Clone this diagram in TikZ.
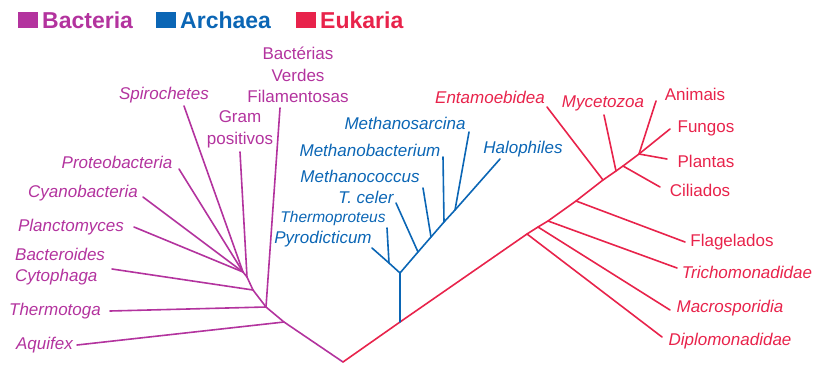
\documentclass[tikz,border=0pt]{standalone}
\usepackage{fontspec}
\setmainfont{Liberation Sans}
\definecolor{bac}{HTML}{B3339E}
\definecolor{arc}{HTML}{0B66B5}
\definecolor{euk}{HTML}{E8234B}
\tikzset{
  lab/.style={inner sep=0pt, font=\fontsize{17}{21.5}\selectfont, align=center},
  itl/.style={inner sep=0pt, font=\fontsize{17}{21.5}\selectfont\itshape, align=center},
  small/.style={inner sep=0pt, font=\fontsize{15.5}{18}\selectfont\itshape},
  head/.style={inner sep=0pt, font=\fontsize{23}{26}\selectfont\bfseries, anchor=west},
  sq/.style={inner sep=0pt, minimum width=20pt, minimum height=16pt},
  bl/.style={draw=bac, line width=1.6pt, line cap=round},
  al/.style={draw=arc, line width=1.6pt, line cap=round},
  el/.style={draw=euk, line width=1.6pt, line cap=round}
}
\begin{document}
\begin{tikzpicture}[x=1pt,y=-1pt]
\useasboundingbox (0,0) rectangle (813,364);
% legend
\node[sq, fill=bac] (sqb) at (28,19.5) {};
\node[head, text=bac] (hb) at (42,20) {Bacteria};
\node[sq, fill=arc] (sqa) at (166,19.5) {};
\node[head, text=arc] (ha) at (180,20) {Archaea};
\node[sq, fill=euk] (sqe) at (305.5,19.5) {};
\node[head, text=euk] (he) at (320,20) {Eukaria};

% ---------------- Bacteria ----------------
\coordinate (root) at (343,362);
\coordinate (bAq) at (284,322);
\coordinate (bJ) at (266,307);
\coordinate (bBa) at (253,290);
\coordinate (bGr) at (247,277);
\coordinate (bCl) at (243,272);
\coordinate (eAq) at (77,345);
\coordinate (eTh) at (110,311);
\coordinate (eBa) at (112,269);
\coordinate (ePl) at (134,227);
\coordinate (eCy) at (143,197);
\coordinate (ePr) at (179,169);
\coordinate (eSp) at (184,106);
\coordinate (eGr) at (240,152);
\coordinate (eVe) at (280,108);

\node[itl, text=bac, anchor=east] (nAq) at (73,345) {Aquifex};
\node[itl, text=bac, anchor=east] (nTh) at (101,311) {Thermotoga};
\node[itl, text=bac, anchor=west, align=left] (nBa) at (15,266.5) {Bacteroides\\Cytophaga};
\node[itl, text=bac] (nPl) at (71,227) {Planctomyces};
\node[itl, text=bac] (nCy) at (83,193) {Cyanobacteria};
\node[itl, text=bac] (nPr) at (117,162) {Proteobacteria};
\node[itl, text=bac] (nSp) at (164,95) {Spirochetes};
\node[lab, text=bac] (nGr) at (240,129.5) {Gram\\positivos};
\node[lab, text=bac] (nVe) at (298,75) {Bactérias\\Verdes\\Filamentosas};

\draw[bl] (root) -- (bAq) -- (bJ) -- (bBa) -- (bGr) -- (bCl);
\draw[bl] (bAq) -- (eAq);
\draw[bl] (bJ) -- (eTh);
\draw[bl] (bJ) -- (eVe);
\draw[bl] (bBa) -- (eBa);
\draw[bl] (bGr) -- (eGr);
\draw[bl] (bCl) -- (ePl);
\draw[bl] (bCl) -- (eCy);
\draw[bl] (bCl) -- (ePr);
\draw[bl] (bCl) -- (eSp);

% ---------------- Eukaria ----------------
\coordinate (kDi) at (527,234);
\coordinate (kMa) at (538,227);
\coordinate (kTr) at (548,221);
\coordinate (kFl) at (576,201);
\coordinate (kEn) at (603,180);
\coordinate (kMy) at (616,171);
\coordinate (kCi) at (623,166);
\coordinate (kCr) at (639,154);
\coordinate (aSt) at (400,322);

\coordinate (eDi) at (662,337);
\coordinate (eMa) at (670,310);
\coordinate (eTr) at (677,268);
\coordinate (eFl) at (685,242);
\coordinate (eEn) at (547,107);
\coordinate (eMy) at (604,115);
\coordinate (eCi) at (660,187);
\coordinate (eAn) at (656,101);
\coordinate (eFu) at (670,129);
\coordinate (ePa) at (667,159);

\node[itl, text=euk] (nDi) at (730,341) {Diplomonadidae};
\node[itl, text=euk] (nMa) at (730,308) {Macrosporidia};
\node[itl, text=euk] (nTr) at (747,272) {Trichomonadidae};
\node[lab, text=euk] (nFl) at (732,242) {Flagelados};
\node[itl, text=euk] (nEn) at (490,97) {Entamoebidea};
\node[itl, text=euk] (nMy) at (603,103) {Mycetozoa};
\node[lab, text=euk] (nCi) at (700,190) {Ciliados};
\node[lab, text=euk] (nAn) at (695,94) {Animais};
\node[lab, text=euk] (nFu) at (706,128) {Fungos};
\node[lab, text=euk] (nPa) at (706,161) {Plantas};

\draw[el] (root) -- (aSt) -- (kDi) -- (kMa) -- (kTr) -- (kFl) -- (kEn) -- (kMy) -- (kCi) -- (kCr);
\draw[el] (kDi) -- (eDi);
\draw[el] (kMa) -- (eMa);
\draw[el] (kTr) -- (eTr);
\draw[el] (kFl) -- (eFl);
\draw[el] (kEn) -- (eEn);
\draw[el] (kMy) -- (eMy);
\draw[el] (kCi) -- (eCi);
\draw[el] (kCr) -- (eAn);
\draw[el] (kCr) -- (eFu);
\draw[el] (kCr) -- (ePa);

% ---------------- Archaea ----------------
\coordinate (aJ) at (400,273);
\coordinate (aTp) at (389,263);
\coordinate (aTc) at (418,252);
\coordinate (aMc) at (431,237);
\coordinate (aMb) at (444,222);
\coordinate (aMs) at (455,210);
\coordinate (eHa) at (500,159);
\coordinate (ePy) at (372,248);
\coordinate (eTp) at (387,228);
\coordinate (eTc) at (396,203);
\coordinate (eMc) at (423,188);
\coordinate (eMb) at (443,157);
\coordinate (eMs) at (469,132);

\node[itl, text=arc] (nMs) at (405,123) {Methanosarcina};
\node[itl, text=arc] (nMb) at (370,150) {Methanobacterium};
\node[itl, text=arc] (nMc) at (360,176) {Methanococcus};
\node[itl, text=arc] (nTc) at (366,197) {T. celer};
\node[small, text=arc] (nTp) at (333,218) {Thermoproteus};
\node[itl, text=arc] (nPy) at (323,239) {Pyrodicticum};
\node[itl, text=arc] (nHa) at (523,149) {Halophiles};

\draw[al] (aSt) -- (aJ);
\draw[al] (aJ) -- (aTp) -- (ePy);
\draw[al] (aTp) -- (eTp);
\draw[al] (aJ) -- (aTc) -- (aMc) -- (aMb) -- (aMs) -- (eHa);
\draw[al] (aTc) -- (eTc);
\draw[al] (aMc) -- (eMc);
\draw[al] (aMb) -- (eMb);
\draw[al] (aMs) -- (eMs);
\end{tikzpicture}
\end{document}
